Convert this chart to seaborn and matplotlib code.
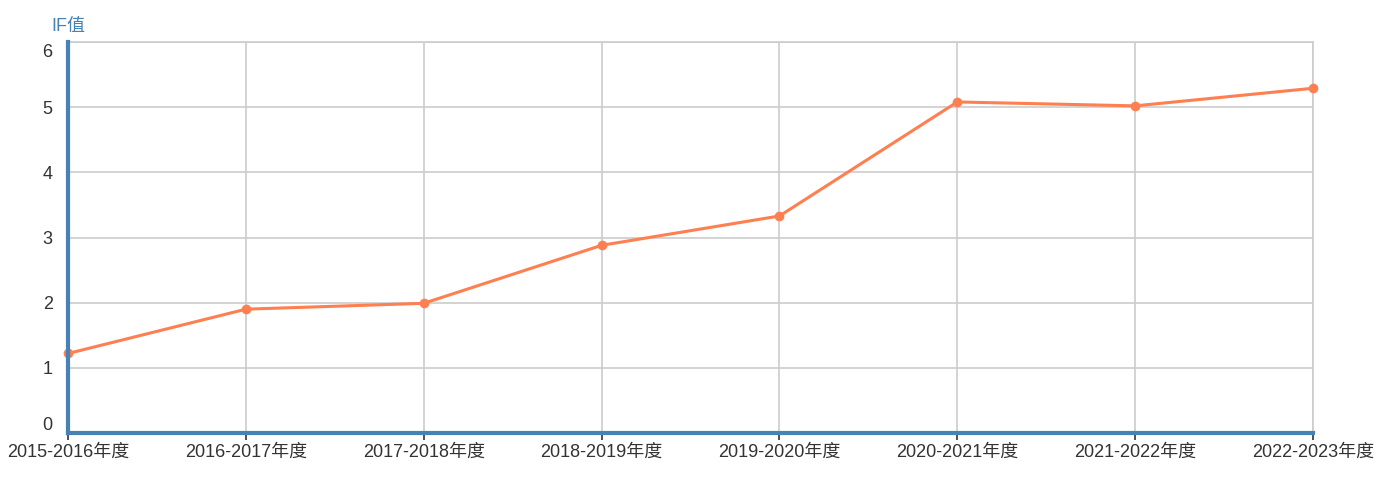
import matplotlib
matplotlib.use("Agg")
import matplotlib.pyplot as plt
import matplotlib.transforms as mtransforms
import seaborn as sns
import pandas as pd

seasons = ["2015-2016年度", "2016-2017年度", "2017-2018年度", "2018-2019年度",
           "2019-2020年度", "2020-2021年度", "2021-2022年度", "2022-2023年度"]
if_values = [1.22, 1.90, 1.99, 2.88, 3.33, 5.08, 5.02, 5.29]
y_ticks = [0, 1, 2, 3, 4, 5, 6]

sns.set_theme(style="white")
plt.rcParams['font.family'] = ['Liberation Sans', 'Noto Sans CJK SC', 'DejaVu Sans']

df = pd.DataFrame({"season": seasons, "IF": if_values})

fig = plt.figure(figsize=(13.87, 4.78), dpi=100)
ax = fig.add_axes([68/1387, 45/478, (1313-68)/1387, (433-42)/478])

sns.lineplot(data=df, x="season", y="IF", ax=ax, color="#FF7F50", linewidth=2.2,
             marker="o", markersize=7, markeredgewidth=0, sort=False, zorder=5)
for ln in ax.lines:
    ln.set_clip_on(False)

ax.set_xlim(0, len(seasons) - 1)
ax.set_ylim(0, 6)
ax.set_yticks(y_ticks)
ax.set_xticks(range(len(seasons)))
ax.set_xticklabels(seasons)

ax.grid(True, color="#cccccc", linewidth=1.2)
ax.set_axisbelow(True)

for s in ["top", "right"]:
    ax.spines[s].set_color("#cccccc")
    ax.spines[s].set_linewidth(1.2)
ax.spines["left"].set_color("#4682B4")
ax.spines["left"].set_linewidth(3)
ax.spines["bottom"].set_color("#4682B4")
ax.spines["bottom"].set_linewidth(3)
ax.spines["left"].set_zorder(6)
ax.spines["bottom"].set_zorder(6)

ax.tick_params(axis="x", bottom=True, length=5, width=1.2, color="#333333",
               labelsize=13, labelcolor="#333333", pad=3)
ax.tick_params(axis="y", left=False, labelsize=13, labelcolor="#333333", pad=5)

ax.set_xlabel("")
ax.set_ylabel("")

ylabels = ax.get_yticklabels()
ylabels[0].set_transform(ylabels[0].get_transform() +
                         mtransforms.ScaledTranslation(0, 10/100, fig.dpi_scale_trans))
ylabels[-1].set_transform(ylabels[-1].get_transform() +
                          mtransforms.ScaledTranslation(0, -8/100, fig.dpi_scale_trans))

fig.text(51/1387, 1 - 27/478, "IF值", color="#4682B4", fontsize=13,
         ha="left", va="center")

fig.savefig("out.png", dpi=100)
